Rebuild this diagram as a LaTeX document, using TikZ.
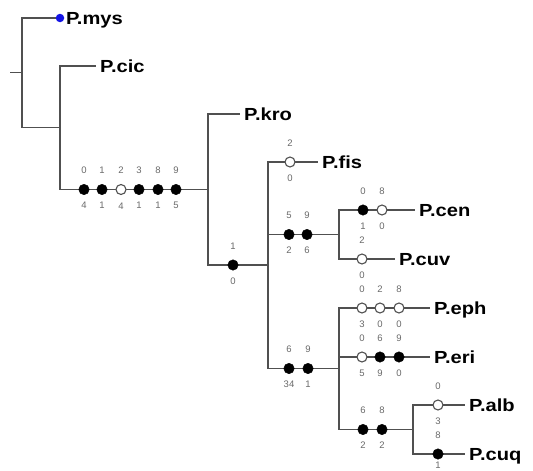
\documentclass[tikz,border=0pt]{standalone}
\usepackage{fontspec}
\setmainfont{Liberation Sans}
\newfontfamily\taxafont[FakeStretch=1.15]{Liberation Sans}
\usetikzlibrary{positioning}
\definecolor{branchgray}{RGB}{80,80,80}
\definecolor{numgray}{RGB}{105,105,105}
\definecolor{rootblue}{RGB}{20,20,230}
\tikzset{
  branch/.style={draw=branchgray, line width=1.5pt},
  taxon/.style={anchor=west, font=\taxafont\bfseries\fontsize{17.5}{17.5}\selectfont,
    text height=12.5pt, text depth=0pt, inner xsep=4pt, inner ysep=0pt},
  numlbl/.style={font=\fontsize{9.5}{9.5}\selectfont, text=numgray,
    text height=6.8pt, text depth=0pt, inner sep=1pt},
  apo/.style={circle, draw=black, fill=black, minimum size=10.5pt, inner sep=0pt},
  homo/.style={circle, draw=branchgray, fill=white, line width=1.1pt,
    minimum size=10pt, inner sep=0pt},
  chtop/.style={label={[numlbl, label distance=9pt]above:#1}},
  chbot/.style={label={[numlbl, label distance=6pt]below:#1}},
}

\begin{document}
\begin{tikzpicture}[x=1pt, y=-1pt]
  \useasboundingbox (0,0) rectangle (533,471);

  % internal nodes
  \coordinate (stem) at (10,72.5);
  \coordinate (root) at (22,72.5);
  \coordinate (n2) at (60,127.5);
  \coordinate (n3) at (208,189.5);
  \coordinate (n4) at (268,265);
  \coordinate (n5) at (339,234.5);
  \coordinate (n6) at (339,368.5);
  \coordinate (n7) at (413,429.5);

  % terminals
  \node[circle, fill=rootblue, minimum size=8.5pt, inner sep=0pt] (mysdot) at (60,18) {};
  \node[taxon, inner xsep=1.5pt] (mys) at (mysdot.east) {P.mys};
  \node[taxon] (cic) at (96,66) {P.cic};
  \node[taxon] (kro) at (240,114) {P.kro};
  \node[taxon] (fis) at (318,162) {P.fis};
  \node[taxon] (cen) at (415,210) {P.cen};
  \node[taxon] (cuv) at (395,259) {P.cuv};
  \node[taxon] (eph) at (430,308) {P.eph};
  \node[taxon] (eri) at (430,357) {P.eri};
  \node[taxon] (alb) at (465,405) {P.alb};
  \node[taxon] (cuq) at (465,454) {P.cuq};

  % branches
  \draw[branch] (stem) -- (root);
  \draw[branch] (root) |- (mysdot);
  \draw[branch] (root) |- (n2);
  \draw[branch] (n2) |- (cic.west);
  \draw[branch] (n2) |- (n3);
  \draw[branch] (n3) |- (kro.west);
  \draw[branch] (n3) |- (n4);
  \draw[branch] (n4) |- (fis.west);
  \draw[branch] (n4) |- (n5);
  \draw[branch] (n4) |- (n6);
  \draw[branch] (n5) |- (cen.west);
  \draw[branch] (n5) |- (cuv.west);
  \draw[branch] (n6) |- (eph.west);
  \draw[branch] (n6) |- (eri.west);
  \draw[branch] (n6) |- (n7);
  \draw[branch] (n7) |- (alb.west);
  \draw[branch] (n7) |- (cuq.west);

  % character changes
  \node[apo, chtop=0, chbot=4] (c1) at (84,189.5) {};
  \node[apo, chtop=1, chbot=1] (c2) at (102,189.5) {};
  \node[homo, chtop=2, chbot=4] (c3) at (121,189.5) {};
  \node[apo, chtop=3, chbot=1] (c4) at (139,189.5) {};
  \node[apo, chtop=8, chbot=1] (c5) at (158,189.5) {};
  \node[apo, chtop=9, chbot=5] (c6) at (176,189.5) {};

  \node[apo, chtop=1, chbot=0] (y1) at (233,265) {};
  \node[homo, chtop=2, chbot=0] (fis1) at (290,162) {};

  \node[apo, chtop=5, chbot=2] (a1) at (289,234.5) {};
  \node[apo, chtop=9, chbot=6] (a2) at (307,234.5) {};
  \node[apo, chtop=0, chbot=1] (cen1) at (363,210) {};
  \node[homo, chtop=8, chbot=0] (cen2) at (382,210) {};
  \node[homo, chtop=2, chbot=0] (cuv1) at (362,259) {};

  \node[apo, chtop=6, chbot=34] (b1) at (289,368.5) {};
  \node[apo, chtop=9, chbot=1] (b2) at (308,368.5) {};
  \node[homo, chtop=0, chbot=3] (eph1) at (362,308) {};
  \node[homo, chtop=2, chbot=0] (eph2) at (380,308) {};
  \node[homo, chtop=8, chbot=0] (eph3) at (399,308) {};
  \node[homo, chtop=0, chbot=5] (eri1) at (362,357) {};
  \node[apo, chtop=6, chbot=9] (eri2) at (380,357) {};
  \node[apo, chtop=9, chbot=0] (eri3) at (399,357) {};

  \node[apo, chtop=6, chbot=2] (d1) at (363,429.5) {};
  \node[apo, chtop=8, chbot=2] (d2) at (382,429.5) {};
  \node[homo, chtop=0, chbot=3] (alb1) at (438,405) {};
  \node[apo, chtop=8, label={[numlbl, label distance=1.5pt]below:1}] (cuq1) at (438,454) {};
\end{tikzpicture}
\end{document}
